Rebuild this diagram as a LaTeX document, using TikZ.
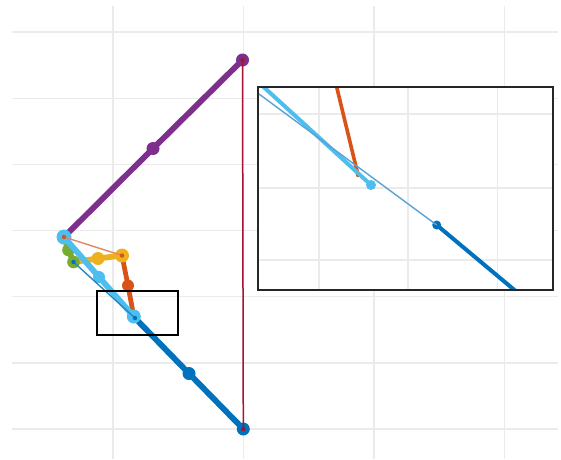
\documentclass[tikz,border=0pt]{standalone}
\definecolor{mblue}{HTML}{0072BD}
\definecolor{morange}{HTML}{D95319}
\definecolor{myellow}{HTML}{EDB120}
\definecolor{mpurple}{HTML}{7E2F8E}
\definecolor{mgreen}{HTML}{77AC30}
\definecolor{mlblue}{HTML}{4DBEEE}
\definecolor{mred}{HTML}{A2142F}
\definecolor{gridc}{HTML}{EBEBEB}
\definecolor{boxc}{HTML}{262626}
\begin{document}
\begin{tikzpicture}[x=1pt,y=-1pt,
  gridline/.style={draw=gridc, line width=1.4pt},
  thick link/.style={line width=5.8pt, line cap=round, line join=round},
  thin link/.style={line width=1.4pt},
  zoombox/.style={draw=black, line width=1.6pt},
  insetbox/.style={draw=boxc, line width=2.3pt}]
\useasboundingbox (0,0) rectangle (561,459);
\fill[white] (0,0) rectangle (561,459);
% main grid
\foreach \gx in {113,243.3,374,504.5} \draw[gridline] (\gx,6) -- (\gx,459);
\foreach \gy in {32,98.2,164.3,230.5,296.7,362.8,429} \draw[gridline] (12,\gy) -- (558,\gy);
% points
\coordinate (P0) at (64,237);
\coordinate (Pm) at (153,148.5);
\coordinate (Pe) at (242.5,60);
\coordinate (B0) at (243.3,429);
\coordinate (Bm) at (189,373.5);
\coordinate (Be) at (135,318);
\coordinate (Lm) at (99,277);
\coordinate (Le) at (133.8,316.5);
\coordinate (Gm) at (68.5,250);
\coordinate (G2) at (73.5,262);
\coordinate (Ym) at (98,258.5);
\coordinate (Ye) at (122,255.5);
\coordinate (Om) at (128,285.5);
\coordinate (Oe) at (133.5,315);
% thick chains
\draw[thick link, mblue] (B0) -- (Bm) -- (Be);
\fill[mblue] (B0) circle[radius=6.5] (Bm) circle[radius=6.5] (Be) circle[radius=5];
\draw[thick link, morange, line width=4.8pt] (Ye) -- (Om) -- (Oe);
\fill[morange] (Om) circle[radius=6];
\draw[thick link, myellow] (G2) -- (Ym) -- (Ye);
\fill[myellow] (Ym) circle[radius=6.5] (Ye) circle[radius=7];
\draw[thick link, mpurple] (P0) -- (Pm) -- (Pe);
\fill[mpurple] (Pm) circle[radius=6.5] (Pe) circle[radius=6.5];
\draw[thick link, mgreen] (P0) -- (Gm) -- (G2);
\fill[mgreen] (Gm) circle[radius=6.3] (G2) circle[radius=6.3];
\draw[thick link, mlblue] (P0) -- (Lm) -- (Le);
\fill[mlblue] (P0) circle[radius=7.5] (Lm) circle[radius=6] (Le) circle[radius=7];
% thin links
\draw[thin link, mblue!85] (Be) -- (G2);
\fill[mblue] (Be) circle[radius=2.2] (G2) circle[radius=2.2];
\draw[thin link, morange!70] (P0) -- (Ye);
\fill[morange] (P0) circle[radius=2.2] (Ye) circle[radius=2.2];
\draw[thin link, mred, line width=1.5pt] (Pe) -- (B0);
\fill[mred] (Pe) circle[radius=2.2] (B0) circle[radius=2.2];
% zoom rectangle
\draw[zoombox] (97,291) rectangle (178,335);
% inset
\coordinate (I1) at (258,87);
\coordinate (I2) at (553,290);
\fill[white] (I1) rectangle (I2);
\begin{scope}
\clip (I1) rectangle (I2);
\foreach \gx in {319,408,497.5} \draw[gridline, line width=1.2pt] (\gx,87) -- (\gx,290);
\foreach \gy in {114,188,260} \draw[gridline, line width=1.2pt] (258,\gy) -- (553,\gy);
\coordinate (iLs) at (262,85.5);
\coordinate (iLe) at (371,185);
\coordinate (iTs) at (256,91.8);
\coordinate (iBd) at (436.7,225);
\coordinate (iBe) at (518,293);
\coordinate (iOs) at (336.2,85);
\coordinate (iOe) at (358,175);
\draw[mblue, line width=4pt] (iBd) -- (iBe);
\fill[mblue] (iBd) circle[radius=4.5];
\draw[morange, line width=3.6pt] (iOs) -- (iOe);
\fill[morange] (iOe) circle[radius=2.2];
\draw[mlblue, line width=4pt, line cap=round] (iLs) -- (iLe);
\fill[mlblue] (iLe) circle[radius=5];
\draw[mblue!65, line width=1.4pt] (iTs) -- (iBd);
\end{scope}
\draw[insetbox] (I1) rectangle (I2);
\end{tikzpicture}
\end{document}
